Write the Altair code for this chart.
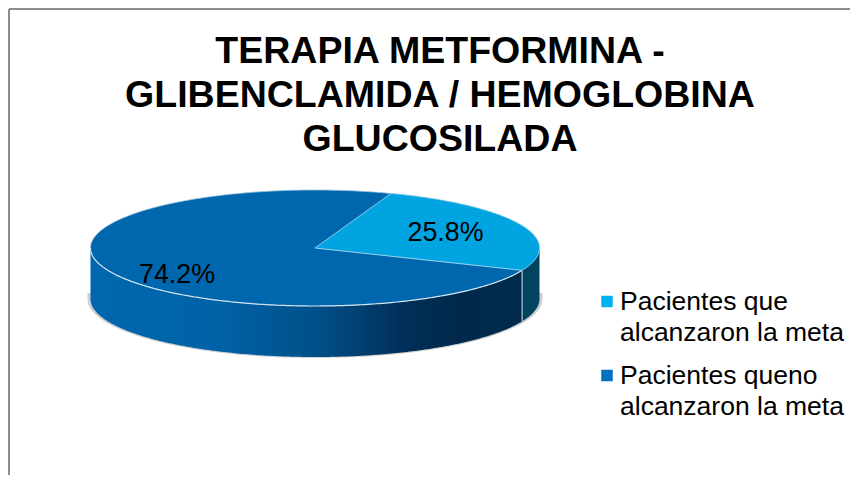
import math
import numpy as np
import pandas as pd
import altair as alt

# --- chart values ---
categories = ["Pacientes que\nalcanzaron la meta", "Pacientes queno\nalcanzaron la meta"]
values = [25.8, 74.2]
title_lines = ["TERAPIA METFORMINA -", "GLIBENCLAMIDA / HEMOGLOBINA", "GLUCOSILADA"]
slice_colors = ["#00A4E0", "#0067AE"]
legend_colors = ["#00B0F0", "#0070C0"]

# --- drawing frame: domain equals page pixels ---
X = alt.Scale(domain=[8, 850], range=[0, 842], nice=False, zero=False)
Y = alt.Scale(domain=[8, 475], range=[0, 467], nice=False, zero=False)
def xc(f="x"): return alt.X(f + ":Q", scale=X, axis=None)
def yc(f="y"): return alt.Y(f + ":Q", scale=Y, axis=None)

cx, cy, a, b, depth = 315.0, 248.0, 224.5, 58.0, 51.0
start = 70.2
end = start - values[0] / sum(values) * 360.0

def pt(t):
    r = math.radians(t)
    return cx + a * math.cos(r), cy - b * math.sin(r)

def ellipse_band(t0, t1, n=160, ca=a, cb=b, ccx=cx, ccy=cy):
    ts = np.radians(np.linspace(t0, t1, n))
    return ccx + ca * np.cos(ts), ccy - cb * np.sin(ts)

def area(df, **mk):
    return alt.Chart(df).mark_area(orient="vertical", **mk).encode(
        x=xc(), y=yc(), y2=alt.Y2("y2:Q"))

def path(xs, ys, **mk):
    df = pd.DataFrame({"x": xs, "y": ys, "i": range(len(xs))})
    return alt.Chart(df).mark_line(interpolate="linear", **mk).encode(
        x=xc(), y=yc(), order="i:Q")

# shadow
sx, sy = ellipse_band(180, 360, 200, ca=a + 3, cb=b + 1, ccy=cy + depth)
shadow = area(pd.DataFrame({"x": sx, "y": sy, "y2": cy + depth - 6}), color="#cfcfcf")

# side wall, dark-going slice
wx, wy = ellipse_band(180, 360 + end, 220)
wall = area(pd.DataFrame({"x": wx, "y": wy, "y2": wy + depth}),
            color=alt.Gradient(gradient="linear", x1=0, x2=1, y1=0, y2=0, stops=[
                alt.GradientStop(offset=0.0, color="#0067AE"),
                alt.GradientStop(offset=0.30, color="#0062A6"),
                alt.GradientStop(offset=0.52, color="#005088"),
                alt.GradientStop(offset=0.72, color="#00305A"),
                alt.GradientStop(offset=0.85, color="#00284A"),
                alt.GradientStop(offset=1.0, color="#002A4C")]))
# side wall, light slice
w2x, w2y = ellipse_band(360 + end, 360, 40)
wall2 = area(pd.DataFrame({"x": w2x, "y": w2y, "y2": w2y + depth}), color="#004460")

# top face: whole ellipse
tx, ty_up = ellipse_band(180, 0, 320)
top = area(pd.DataFrame({"x": tx, "y": ty_up, "y2": 2 * cy - ty_up}), color=slice_colors[1])

# top face: light sector
xs_pt, ys_pt = pt(start)
xe_pt, ye_pt = pt(end)
gx = np.unique(np.concatenate([np.linspace(cx, xs_pt, 20), np.linspace(cx, xe_pt, 60),
                               cx + a * np.cos(np.radians(np.linspace(start, 0, 160)))]))
def upper(x):
    if x <= xs_pt:
        return cy + (ys_pt - cy) * (x - cx) / (xs_pt - cx)
    return cy - b * math.sqrt(max(0.0, 1 - ((x - cx) / a) ** 2))
def lower(x):
    if x <= xe_pt:
        return cy + (ye_pt - cy) * (x - cx) / (xe_pt - cx)
    return cy + b * math.sqrt(max(0.0, 1 - ((x - cx) / a) ** 2))
sector = area(pd.DataFrame({"x": gx, "y": [upper(v) for v in gx], "y2": [lower(v) for v in gx]}),
              color=slice_colors[0])

# light edges
rim = "#D5E6F2"
rfx, rfy = ellipse_band(180, 360 + end, 200)
edges = [
    path(rfx, rfy, color=rim, strokeWidth=1.2),
    path(*ellipse_band(start, 180, 160), color="#9CC4E0", strokeWidth=0.8),
    path(*ellipse_band(start, end, 120), color="#9CD4EE", strokeWidth=0.8),
    path([cx, xs_pt], [cy, ys_pt], color="#8CCBEA", strokeWidth=1),
    path([cx, xe_pt], [cy, ye_pt], color="#9CD4EE", strokeWidth=1),
    path([xe_pt, xe_pt], [ye_pt, ye_pt + depth], color="#8FA8B8", strokeWidth=1.5),
]

# frame
frame = [
    path([9, 9], [9, 475], color="#8c8c8c", strokeWidth=2),
    path([9, 850], [9, 9], color="#8c8c8c", strokeWidth=2),
]

FONT = "Liberation Sans"

def text(df, size, weight="normal", align="center"):
    return alt.Chart(df).mark_text(font=FONT, fontSize=size, fontWeight=weight, align=align,
                                   baseline="middle", color="#000000").encode(
        x=xc(), y=yc(), text="t:N")

title = text(pd.DataFrame({"t": title_lines, "x": [440, 440, 440], "y": [52, 96, 140]}), 37.5, "bold")
labels = text(pd.DataFrame({"t": [f"{v:.1f}%" for v in values], "x": [445.5, 177], "y": [233, 275]}), 26.8)

leg_lines = [s for c in categories for s in c.split("\n")]
legend_text = text(pd.DataFrame({"t": leg_lines, "x": [620] * 4, "y": [302, 333, 376, 407]}), 26.5, align="left")
legend_sq = alt.Chart(pd.DataFrame({"x": [607, 607], "y": [301.5, 375.5], "c": legend_colors})).mark_square(
    size=132, opacity=1).encode(x=xc(), y=yc(), color=alt.Color("c:N", scale=None))

chart = alt.layer(
    *frame, shadow, wall, wall2, top, sector, *edges, title, labels, legend_sq, legend_text
).properties(width=842, height=467, padding=0, autosize=alt.AutoSizeParams(type="none"),
             background="#ffffff").configure_view(stroke=None)

chart.save("out.html", embed_options={"renderer": "svg", "actions": False})
